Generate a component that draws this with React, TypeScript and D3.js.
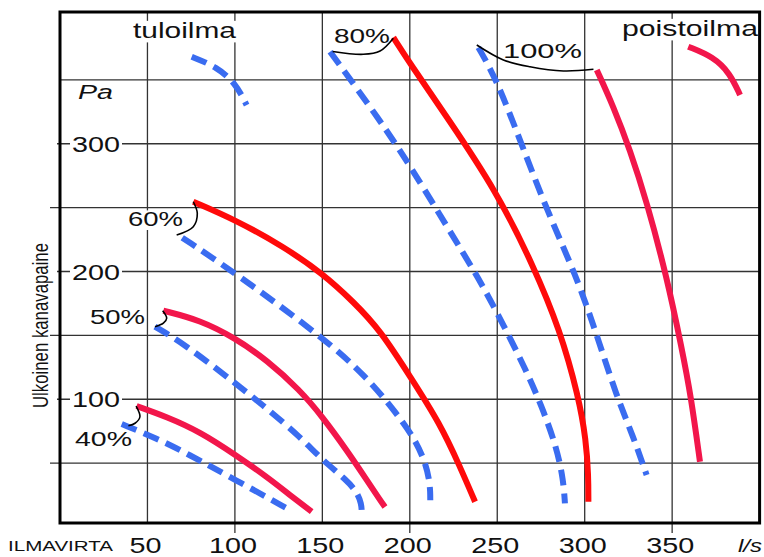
import React from 'react';
import * as d3 from 'd3';

type P = [number, number];

// grid / tick values
const xTicks = [50, 100, 150, 200, 250, 300, 350];
const yGrid = [50, 100, 150, 200, 250, 300, 350];
const yLabels = [100, 200, 300];
const xLongTicks = [100, 200, 350];
const yLongTicks = [50, 150, 250];

// curves (l/s, Pa)
const red40: P[] = [[43.8, 94.7], [61.0, 86.3], [80.0, 74.6], [100.4, 56.4], [118.2, 39.4], [131.5, 25.0], [143.9, 12.0]];
const blue40: P[] = [[35.3, 80.6], [55.3, 69.4], [72.4, 57.7], [100.4, 36.8], [131.5, 13.3]];
const red50: P[] = [[59.1, 169.3], [80.0, 162.0], [100.4, 147.7], [118.2, 130.7], [137.2, 107.2], [150.0, 86.3], [163.9, 60.3], [175.4, 36.8], [183.0, 21.1], [185.8, 15.7]];
const blue50: P[] = [[54.3, 156.8], [70.5, 143.8], [100.4, 112.5], [118.2, 92.9], [137.2, 70.7], [150.0, 52.4], [163.9, 36.8], [170.0, 27.0], [172.3, 18.0], [172.5, 12.5]];
const red60: P[] = [[76.2, 254.6], [100.4, 240.3], [127.7, 219.6], [150.0, 198.6], [168.0, 176.0], [183.0, 154.2], [200.3, 117.5], [217.3, 80.9], [228.7, 47.2], [237.3, 19.8]];
const blue60: P[] = [[69.9, 226.5], [100.4, 198.6], [150.0, 148.8], [175.0, 118.0], [192.5, 88.9], [202.0, 70.6], [208.5, 52.4], [211.2, 36.8], [211.7, 27.0], [211.7, 21.0]];
const red80: P[] = [[190.6, 383.2], [200.1, 362.9], [221.1, 321.2], [249.7, 262.5], [270.5, 205.0], [285.9, 154.2], [296.5, 102.0], [300.8, 68.1], [302.1, 40.0], [302.1, 19.8]];
const blue80: P[] = [[154.4, 372.1], [182.9, 318.5], [200.1, 282.9], [221.1, 235.5], [240.2, 193.0], [254.0, 157.0], [266.0, 124.0], [275.0, 96.0], [283.9, 62.8], [287.8, 36.7], [288.7, 18.5]];
const red100: P[] = [[306.9, 357.7], [316.4, 329.2], [325.9, 295.1], [335.4, 255.0], [346.9, 195.9], [355.5, 140.0], [360.8, 102.0], [365.9, 51.1]];
const blue100: P[] = [[239.2, 375.4], [249.7, 349.9], [263.0, 303.0], [278.3, 248.1], [295.4, 195.9], [307.0, 150.0], [318.3, 102.0], [327.8, 70.7], [335.4, 40.7]];
const legendBlue: P[] = [[75.3, 368.1], [89.6, 360.3], [100.4, 347.3], [106.7, 330.3]];
const legendRed: P[] = [[359.2, 376.0], [373.5, 368.1], [383.1, 355.1], [388.8, 338.2]];

// brackets joining the curve pairs
const br80: P[] = [[155.9, 372.2], [173.4, 370.0], [183.0, 372.6], [190.6, 382.6]];
const br100: P[] = [[238.3, 377.3], [253.5, 365.6], [268.7, 360.3], [287.8, 357.0], [305.0, 358.3]];
const br60: P[] = [[76.2, 254.6], [78.5, 245.6], [76.2, 235.1], [66.7, 228.6]];
const br50: P[] = [[58.7, 169.3], [61.0, 163.4], [59.1, 159.5], [54.3, 156.8]];
const br40: P[] = [[43.5, 94.7], [45.7, 86.3], [42.9, 81.2], [39.1, 79.3]];

const RED = '#ff0a0a';
const CRIMSON = '#f2164b';
const BLUE = '#3a6cf0';

const series = [
  { pts: blue40, color: BLUE, dash: true },
  { pts: red40, color: CRIMSON, dash: false },
  { pts: blue50, color: BLUE, dash: true },
  { pts: red50, color: CRIMSON, dash: false },
  { pts: blue60, color: BLUE, dash: true },
  { pts: red60, color: RED, dash: false },
  { pts: blue80, color: BLUE, dash: true },
  { pts: red80, color: RED, dash: false },
  { pts: blue100, color: BLUE, dash: true },
  { pts: red100, color: CRIMSON, dash: false },
  { pts: legendBlue, color: BLUE, dash: true },
  { pts: legendRed, color: CRIMSON, dash: false },
];
const brackets = [br80, br100, br60, br50, br40];

const FONT = '"Liberation Sans", Arial, Helvetica, sans-serif';

type Lbl = { t: string; x: number; y: number; size: number; len: number; italic?: boolean; bg?: boolean };
const labels: Lbl[] = [
  { t: 'tuloilma', x: 133, y: 38, size: 22, len: 103, bg: true },
  { t: 'poistoilma', x: 622, y: 36, size: 22, len: 136, bg: true },
  { t: '80%', x: 334, y: 43, size: 20, len: 56 },
  { t: '100%', x: 503, y: 58, size: 21, len: 79 },
  { t: '60%', x: 128, y: 226, size: 20, len: 55, bg: true },
  { t: '50%', x: 90, y: 324, size: 20, len: 55, bg: true },
  { t: '40%', x: 75, y: 446, size: 20, len: 57 },
  { t: 'Pa', x: 78, y: 99, size: 20, len: 35, italic: true },
  { t: 'ILMAVIRTA', x: 8, y: 551, size: 15, len: 105 },
  { t: 'l/s', x: 738, y: 552, size: 19, len: 24, italic: true },
];

export default function App() {
  const x = d3.scaleLinear().domain([0, 400]).range([60, 759.6]);
  const y = d3.scaleLinear().domain([0, 400]).range([527, 16]);
  const line = d3.line<P>().x(d => x(d[0])).y(d => y(d[1])).curve(d3.curveBasis);
  const bline = d3.line<P>().x(d => x(d[0])).y(d => y(d[1])).curve(d3.curveCatmullRom.alpha(0.5));
  const left = x(0), right = x(400), top = 12, bottom = 523;

  const renderText = (l: Lbl, i: number) => (
    <g key={i}>
      {l.bg && <rect x={l.x - 1} y={l.y - l.size * 0.78} width={l.len + 2} height={l.size * 0.98} fill="#fff" />}
      <text x={l.x} y={l.y} fontSize={l.size} fontStyle={l.italic ? 'italic' : 'normal'}
        textLength={l.len} lengthAdjust="spacingAndGlyphs" fill="#111">{l.t}</text>
    </g>
  );

  return (
    <svg width={764} height={557} style={{ position: 'absolute', left: 0, top: 0, background: '#fff' }} fontFamily={FONT}>
      <rect x={0} y={0} width={764} height={557} fill="#fff" />
      {xTicks.map(v => (
        <line key={'vx' + v} x1={x(v)} x2={x(v)} y1={top} y2={xLongTicks.includes(v) ? bottom + 10 : bottom} stroke="#333" strokeWidth={1.3} />
      ))}
      {yGrid.map(v => (
        <line key={'hy' + v} x1={yLongTicks.includes(v) ? 50 : (yLabels.includes(v) ? 57 : left)} x2={right} y1={y(v)} y2={y(v)} stroke="#333" strokeWidth={1.3} />
      ))}
      {yLabels.map(v => (
        <g key={'yl' + v}>
          <rect x={70} y={y(v) - 10} width={52} height={20} fill="#fff" />
          <text x={72} y={y(v) + 8} fontSize={22} textLength={48} lengthAdjust="spacingAndGlyphs" fill="#111">{v}</text>
        </g>
      ))}
      {xTicks.map(v => {
        const len = String(v).length * 16;
        return (
          <text key={'xl' + v} x={x(v) - 2 - len / 2} y={553} fontSize={22} textLength={len} lengthAdjust="spacingAndGlyphs" fill="#111">{v}</text>
        );
      })}
      {labels.map(renderText)}
      <rect x={left} y={top} width={right - left} height={bottom - top} fill="none" stroke="#000" strokeWidth={3} />
      <g transform="translate(48,325.5) rotate(-90) scale(1,1.35)">
        <text x={-82.5} y={0} fontSize={16.5} textLength={165} lengthAdjust="spacingAndGlyphs" fill="#111">Ulkoinen kanavapaine</text>
      </g>
      {series.map((s, i) => (
        <path key={'c' + i} d={line(s.pts) || ''} fill="none" stroke={s.color} strokeWidth={6}
          strokeDasharray={s.dash ? '16 8' : undefined} strokeLinecap="butt" />
      ))}
      {brackets.map((b, i) => (
        <path key={'b' + i} d={bline(b) || ''} fill="none" stroke="#000" strokeWidth={1.6} />
      ))}
    </svg>
  );
}
